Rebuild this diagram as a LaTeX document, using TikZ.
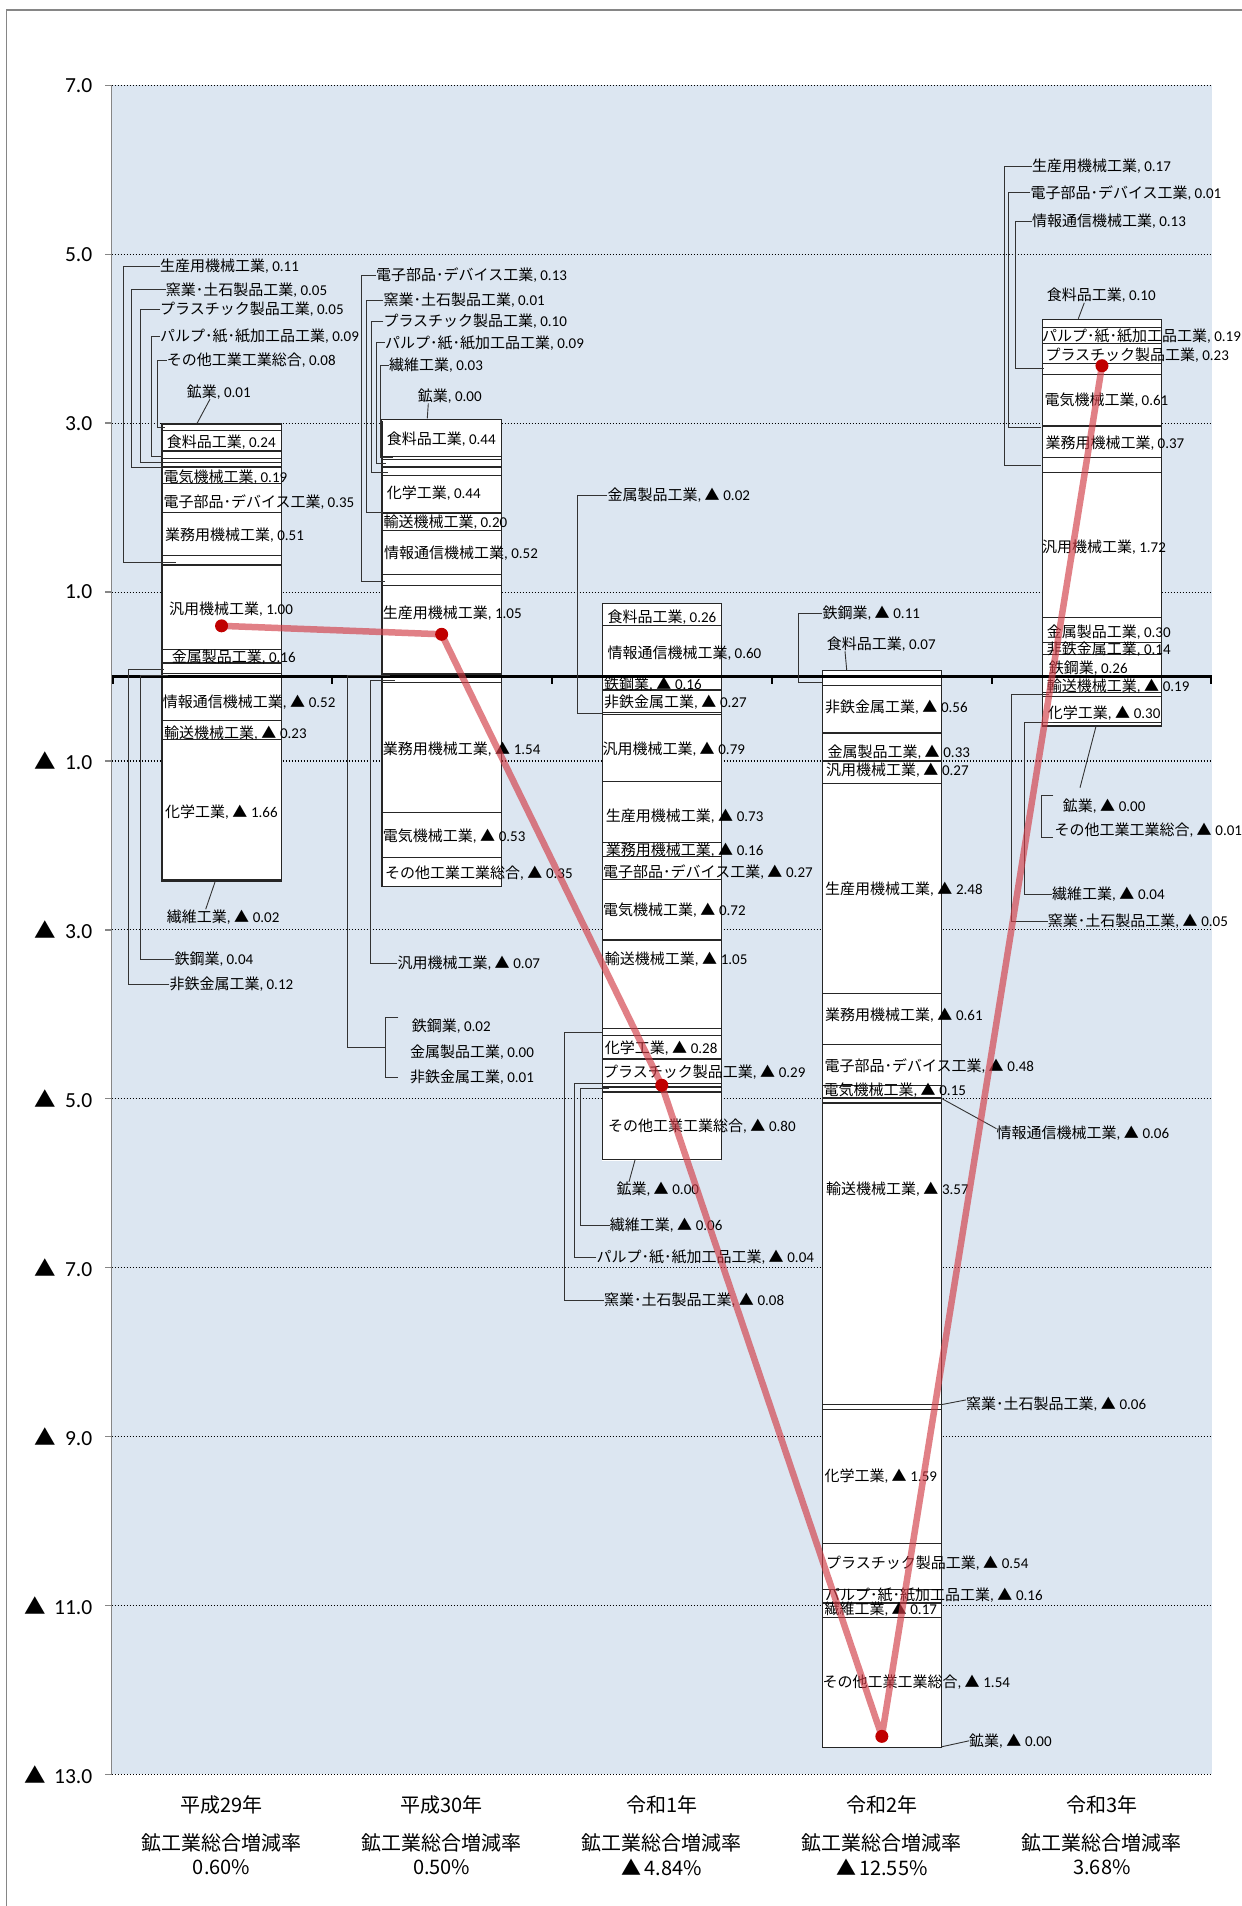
\documentclass[tikz,border=0pt]{standalone}
\usepackage{fontspec}
\setmainfont{Carlito}
\newfontfamily\jp{Noto Sans CJK JP}
\definecolor{plotbg}{RGB}{220,230,241}
\definecolor{axgray}{RGB}{134,134,134}
\definecolor{mkred}{RGB}{192,0,0}
\definecolor{lnred}{RGB}{210,60,70}
\newcommand\lb[2]{{\jp #1}, #2}
\newcommand\tri{{\jp ▲}\hspace{0.25em}}
\newcommand\ytri{{\jp ▲}\hspace{0.4em}}
\newcommand\stackbar[2]{%
  \xdef\posacc{0}\xdef\negacc{0}%
  \foreach \v in {#2}{%
    \ifdim\v pt<0pt
      \pgfmathsetmacro\nn{\negacc+(\v)}%
      \draw[seg] (#1-59.6,\negacc) rectangle (#1+59.6,\nn);
      \xdef\negacc{\nn}%
    \else
      \pgfmathsetmacro\nn{\posacc+(\v)}%
      \draw[seg] (#1-59.6,\posacc) rectangle (#1+59.6,\nn);
      \xdef\posacc{\nn}%
    \fi
  }%
}
\begin{document}
\begin{tikzpicture}[x=1pt,y=-1pt,
  seg/.style={draw=black!85,line width=1.2pt,fill=white},
  gridln/.style={draw=black,line width=1.1pt,dash pattern=on 1.3pt off 1.7pt},
  axln/.style={draw=axgray,line width=1.4pt},
  lab/.style={anchor=west,inner sep=0pt,font=\fontsize{15}{17}\selectfont},
  ylab/.style={anchor=east,inner sep=0pt,font=\fontsize{21.5}{23}\selectfont},
  cat/.style={inner sep=0pt,font=\jp\fontsize{20}{22}\selectfont},
  leader/.style={draw=black!80,line width=0.9pt},
  redln/.style={draw=lnred,line width=6.5pt,opacity=0.65,line join=round},
  dotmk/.style={fill=mkred}]
\useasboundingbox (0,0) rectangle (1242,1906);
\fill[white] (0,0) rectangle (1242,1906);
\draw[axln] (6.5,1906) -- (6.5,10) -- (1242,10);
\fill[plotbg] (111.5,85.35) rectangle (1212,1774.4);

\begin{scope}[shift={(0,676.5)},y=84.45pt]
  \foreach \g in {7,5,...,-13}{
    \draw[gridln] (111.5,\g) -- (1212,\g);
    \draw[axln] (105,\g) -- (111.5,\g);
  }
  \draw[axln] (111.5,7) -- (111.5,-13);
  \foreach \g/\t in {7/7.0,5/5.0,3/3.0,1/1.0,-1/{\ytri 1.0},-3/{\ytri 3.0},-5/{\ytri 5.0},-7/{\ytri 7.0},-9/{\ytri 9.0},-11/{\ytri 11.0},-13/{\ytri 13.0}}
    \node[ylab] (yl\g) at (92.5,\g) {\t};
  % bars
  \stackbar{221.55}{0.04,0.12,0.16,1.00,0.11,0.51,0.35,0.19,-0.52,-0.23,0.05,-1.66,0.05,0.09,-0.02,0.24,0.08,0.01}
  \stackbar{441.65}{0.02,0.01,0.001,-0.07,1.05,-1.54,0.13,-0.53,0.52,0.20,0.01,0.44,0.10,0.09,0.03,0.44,-0.35,0.001}
  \stackbar{661.75}{-0.16,-0.27,-0.02,-0.79,-0.73,-0.16,-0.27,-0.72,0.60,-1.05,-0.08,-0.28,-0.29,-0.04,-0.06,0.26,-0.80,-0.001}
  \stackbar{881.85}{-0.11,-0.56,-0.33,-0.27,-2.48,-0.61,-0.48,-0.15,-0.06,-3.57,-0.06,-1.59,-0.54,-0.16,-0.17,0.07,-1.54,-0.001}
  \stackbar{1101.95}{0.26,0.14,0.30,1.72,0.17,0.37,0.01,0.61,0.13,-0.19,-0.05,-0.30,0.23,0.19,-0.04,0.10,-0.01,-0.001}
  \coordinate (r1) at (221.55,0.60);
  \coordinate (r2) at (441.65,0.50);
  \coordinate (r3) at (661.75,-4.84);
  \coordinate (r4) at (881.85,-12.55);
  \coordinate (r5) at (1101.95,3.68);
\end{scope}

% zero axis
\draw[black,line width=2.6pt] (111.5,676.5) -- (1212,676.5);
\foreach \t in {112.5,331.6,551.7,771.8,991.9,1211}
  \draw[black,line width=2pt] (\t,676.5) -- (\t,684);

% ---------- 平成29年 ----------
\node[lab] (a1) at (160,266) {\lb{生産用機械工業}{0.11}};
\node[lab] (a2) at (165.7,289.7) {\lb{窯業･土石製品工業}{0.05}};
\node[lab] (a3) at (160,309) {\lb{プラスチック製品工業}{0.05}};
\node[lab] (a4) at (160,336) {\lb{パルプ･紙･紙加工品工業}{0.09}};
\node[lab] (a5) at (166.7,360) {\lb{その他工業工業総合}{0.08}};
\node[lab] (a6) at (186.7,391.7) {\lb{鉱業}{0.01}};
\node[lab] (a7) at (166.7,442.3) {\lb{食料品工業}{0.24}};
\node[lab] (a8) at (163.3,477.3) {\lb{電気機械工業}{0.19}};
\node[lab] (a9) at (163.3,502.3) {\lb{電子部品･デバイス工業}{0.35}};
\node[lab] (a10) at (165,535) {\lb{業務用機械工業}{0.51}};
\node[lab] (a11) at (169,609.3) {\lb{汎用機械工業}{1.00}};
\node[lab] (a12) at (171.7,656.7) {\lb{金属製品工業}{0.16}};
\node[lab] (a13) at (162.7,702) {\lb{情報通信機械工業}{\tri 0.52}};
\node[lab] (a14) at (164,732.7) {\lb{輸送機械工業}{\tri 0.23}};
\node[lab] (a15) at (165,811.7) {\lb{化学工業}{\tri 1.66}};
\node[lab] (a16) at (166.7,916.7) {\lb{繊維工業}{\tri 0.02}};
\node[lab] (a17) at (174.3,959.3) {\lb{鉄鋼業}{0.04}};
\node[lab] (a18) at (169.3,984.3) {\lb{非鉄金属工業}{0.12}};
\coordinate (ta1) at (176,562.3);
\coordinate (ta2) at (162,467.3);
\coordinate (ta3) at (162,462.3);
\coordinate (ta4) at (163,456.3);
\coordinate (ta5) at (165,427.3);
\coordinate (ta6) at (196.7,424);
\coordinate (ta16) at (215,882);
\coordinate (ta17) at (168.3,675.3);
\coordinate (ta18) at (164.3,669.3);
\draw[leader] (a1.west) -- ++(-36.7,0) |- (ta1);
\draw[leader] (a2.west) -- ++(-34,0) |- (ta2);
\draw[leader] (a3.west) -- ++(-19.3,0) |- (ta3);
\draw[leader] (a4.west) -- ++(-9,0) |- (ta4);
\draw[leader] (a5.west) -- ++(-9,0) |- (ta5);
\draw[leader] ([xshift=23.3pt]a6.south west) -- (ta6);
\draw[leader] ([xshift=39pt]a16.north west) -- (ta16);
\draw[leader] (a17.west) -- ++(-33.6,0) |- (ta17);
\draw[leader] (a18.west) -- ++(-41,0) |- (ta18);

% ---------- 平成30年 ----------
\node[lab] (b1) at (376,275) {\lb{電子部品･デバイス工業}{0.13}};
\node[lab] (b2) at (383.3,300) {\lb{窯業･土石製品工業}{0.01}};
\node[lab] (b3) at (383.3,321) {\lb{プラスチック製品工業}{0.10}};
\node[lab] (b4) at (385,342.7) {\lb{パルプ･紙･紙加工品工業}{0.09}};
\node[lab] (b5) at (389,365.3) {\lb{繊維工業}{0.03}};
\node[lab] (b6) at (417.7,396) {\lb{鉱業}{0.00}};
\node[lab] (b7) at (386.7,439.3) {\lb{食料品工業}{0.44}};
\node[lab] (b8) at (386.7,493.3) {\lb{化学工業}{0.44}};
\node[lab] (b9) at (383.3,521.7) {\lb{輸送機械工業}{0.20}};
\node[lab] (b10) at (384,553.3) {\lb{情報通信機械工業}{0.52}};
\node[lab] (b11) at (382.7,612.7) {\lb{生産用機械工業}{1.05}};
\node[lab] (b12) at (382.7,749) {\lb{業務用機械工業}{\tri 1.54}};
\node[lab] (b13) at (382.7,836.3) {\lb{電気機械工業}{\tri 0.53}};
\node[lab] (b14) at (385,873) {\lb{その他工業工業総合}{\tri 0.35}};
\node[lab] (b15) at (397.3,963) {\lb{汎用機械工業}{\tri 0.07}};
\node[lab] (b16) at (411.7,1026.3) {\lb{鉄鋼業}{0.02}};
\node[lab] (b17) at (410,1052.3) {\lb{金属製品工業}{0.00}};
\node[lab] (b18) at (410,1077.3) {\lb{非鉄金属工業}{0.01}};
\coordinate (tb1) at (385,581);
\coordinate (tb2) at (383.3,512.7);
\coordinate (tb3) at (387.7,472);
\coordinate (tb4) at (386,463);
\coordinate (tb5) at (393,457.7);
\coordinate (tb6) at (427.3,418.3);
\coordinate (tb15) at (395,680.3);
\coordinate (tb16) at (390,675);
\coordinate (bk1) at (398.3,1017);
\coordinate (bk2) at (398.3,1077.3);
\draw[leader] (b1.west) -- ++(-15,0) |- (tb1);
\draw[leader] (b2.west) -- ++(-17.3,0) |- (tb2);
\draw[leader] (b3.west) -- ++(-11.6,0) |- (tb3);
\draw[leader] (b4.west) -- ++(-9,0) |- (tb4);
\draw[leader] (b5.west) -- ++(-8.3,0) |- (tb5);
\draw[leader] ([xshift=10.6pt]b6.south west) -- (tb6);
\draw[leader] (b15.west) -- ++(-27.3,0) |- (tb15);
\draw[leader] (bk1) -- ++(-12.6,0) |- (bk2);
\draw[leader] (385.7,1047.3) -- ++(-38.4,0) |- (tb16);

% ---------- 令和1年 ----------
\node[lab] (c1) at (607.3,495) {\lb{金属製品工業}{\tri 0.02}};
\node[lab] (c2) at (607.3,616.7) {\lb{食料品工業}{0.26}};
\node[lab] (c3) at (607.3,652.7) {\lb{情報通信機械工業}{0.60}};
\node[lab] (c4) at (604,684) {\lb{鉄鋼業}{\tri 0.16}};
\node[lab] (c5) at (604,701.7) {\lb{非鉄金属工業}{\tri 0.27}};
\node[lab] (c6) at (602.3,749.3) {\lb{汎用機械工業}{\tri 0.79}};
\node[lab] (c7) at (605.7,816) {\lb{生産用機械工業}{\tri 0.73}};
\node[lab] (c8) at (605.7,850) {\lb{業務用機械工業}{\tri 0.16}};
\node[lab] (c9) at (603,871.7) {\lb{電子部品･デバイス工業}{\tri 0.27}};
\node[lab] (c10) at (603,910.3) {\lb{電気機械工業}{\tri 0.72}};
\node[lab] (c11) at (604.7,959.3) {\lb{輸送機械工業}{\tri 1.05}};
\node[lab] (c12) at (604.7,1047.7) {\lb{化学工業}{\tri 0.28}};
\node[lab] (c13) at (603,1071.7) {\lb{プラスチック製品工業}{\tri 0.29}};
\node[lab] (c14) at (608,1126) {\lb{その他工業工業総合}{\tri 0.80}};
\node[lab] (c15) at (616.3,1189.3) {\lb{鉱業}{\tri 0.00}};
\node[lab] (c16) at (609.7,1225.3) {\lb{繊維工業}{\tri 0.06}};
\node[lab] (c17) at (596.3,1257) {\lb{パルプ･紙･紙加工品工業}{\tri 0.04}};
\node[lab] (c18) at (604,1300.3) {\lb{窯業･土石製品工業}{\tri 0.08}};
\coordinate (tc1) at (602.3,713.3);
\coordinate (tc15) at (635,1160);
\coordinate (tc16) at (609,1088.3);
\coordinate (tc17) at (602.3,1083.3);
\coordinate (tc18) at (602.3,1032);
\draw[leader] (c1.west) -- ++(-30,0) |- (tc1);
\draw[leader] ([xshift=12.7pt]c15.north west) -- (tc15);
\draw[leader] (c16.west) -- ++(-29,0) |- (tc16);
\draw[leader] (c17.west) -- ++(-21.6,0) |- (tc17);
\draw[leader] (c18.west) -- ++(-39.3,0) |- (tc18);

% ---------- 令和2年 ----------
\node[lab] (d1) at (822.3,613.1) {\lb{鉄鋼業}{\tri 0.11}};
\node[lab] (d2) at (826.7,643.8) {\lb{食料品工業}{0.07}};
\node[lab] (d3) at (825,707.2) {\lb{非鉄金属工業}{\tri 0.56}};
\node[lab] (d4) at (827.3,752.5) {\lb{金属製品工業}{\tri 0.33}};
\node[lab] (d5) at (826,770.3) {\lb{汎用機械工業}{\tri 0.27}};
\node[lab] (d6) at (825,888.7) {\lb{生産用機械工業}{\tri 2.48}};
\node[lab] (d7) at (825,1015.5) {\lb{業務用機械工業}{\tri 0.61}};
\node[lab] (d8) at (824.3,1066) {\lb{電子部品･デバイス工業}{\tri 0.48}};
\node[lab] (d9) at (823.3,1090.5) {\lb{電気機械工業}{\tri 0.15}};
\node[lab] (d10) at (996.5,1132.7) {\lb{情報通信機械工業}{\tri 0.06}};
\node[lab] (d11) at (826,1189.1) {\lb{輸送機械工業}{\tri 3.57}};
\node[lab] (d12) at (966,1403.9) {\lb{窯業･土石製品工業}{\tri 0.06}};
\node[lab] (d13) at (824.3,1476.5) {\lb{化学工業}{\tri 1.59}};
\node[lab] (d14) at (826,1563.1) {\lb{プラスチック製品工業}{\tri 0.54}};
\node[lab] (d15) at (825,1595.1) {\lb{パルプ･紙･紙加工品工業}{\tri 0.16}};
\node[lab] (d16) at (824.3,1609) {\lb{繊維工業}{\tri 0.17}};
\node[lab] (d17) at (822.3,1681.7) {\lb{その他工業工業総合}{\tri 1.54}};
\node[lab] (d18) at (969,1740.8) {\lb{鉱業}{\tri 0.00}};
\coordinate (td1) at (821.7,682.2);
\coordinate (td2) at (846.7,670);
\coordinate (td10) at (941.5,1098.4);
\coordinate (td12) at (941.5,1404.6);
\coordinate (td18) at (941.5,1746.8);
\draw[leader] (d1.west) -- ++(-24,0) |- (td1);
\draw[leader] ([xshift=18.3pt]d2.south west) -- (td2);
\draw[leader] (td10) -- ([yshift=4pt]d10.west);
\draw[leader] (td12) -- ([yshift=4pt]d12.west);
\draw[leader] (td18) -- (d18.west);

% ---------- 令和3年 ----------
\node[lab] (e1) at (1032,166) {\lb{生産用機械工業}{0.17}};
\node[lab] (e2) at (1030.3,192.7) {\lb{電子部品･デバイス工業}{0.01}};
\node[lab] (e3) at (1032,221.3) {\lb{情報通信機械工業}{0.13}};
\node[lab] (e4) at (1046.7,295.3) {\lb{食料品工業}{0.10}};
\node[lab] (e5) at (1042,336.3) {\lb{パルプ･紙･紙加工品工業}{0.19}};
\node[lab] (e6) at (1045.3,354.7) {\lb{プラスチック製品工業}{0.23}};
\node[lab] (e7) at (1044.3,400.3) {\lb{電気機械工業}{0.61}};
\node[lab] (e8) at (1045.3,443) {\lb{業務用機械工業}{0.37}};
\node[lab] (e9) at (1042,547) {\lb{汎用機械工業}{1.72}};
\node[lab] (e10) at (1046.7,631.7) {\lb{金属製品工業}{0.30}};
\node[lab] (e11) at (1046.7,649.3) {\lb{非鉄金属工業}{0.14}};
\node[lab] (e12) at (1048.7,668) {\lb{鉄鋼業}{0.26}};
\node[lab] (e13) at (1046.7,686) {\lb{輸送機械工業}{\tri 0.19}};
\node[lab] (e14) at (1047.7,712.7) {\lb{化学工業}{\tri 0.30}};
\node[lab] (e15) at (1062.7,806) {\lb{鉱業}{\tri 0.00}};
\node[lab] (e16) at (1054.3,830.3) {\lb{その他工業工業総合}{\tri 0.01}};
\node[lab] (e17) at (1052,894.3) {\lb{繊維工業}{\tri 0.04}};
\node[lab] (e18) at (1047.7,921) {\lb{窯業･土石製品工業}{\tri 0.05}};
\coordinate (te1) at (1041,465.3);
\coordinate (te2) at (1041,427);
\coordinate (te3) at (1044.3,368.7);
\coordinate (te4) at (1078.3,318.7);
\coordinate (te15) at (1096,726.3);
\coordinate (te15b) at (1080,787.7);
\coordinate (te17) at (1052.7,722.7);
\coordinate (te18) at (1049.3,694.3);
\coordinate (ek1) at (1053.3,795.3);
\coordinate (ek2) at (1053.3,837);
\draw[leader] (e1.west) -- ++(-27.7,0) |- (te1);
\draw[leader] (e2.west) -- ++(-21.6,0) |- (te2);
\draw[leader] (e3.west) -- ++(-17,0) |- (te3);
\draw[leader] ([xshift=37.6pt]e4.south west) -- (te4);
\draw[leader] (te15) -- (te15b);
\draw[leader] (ek1) -- ++(-11.6,0) |- (ek2);
\draw[leader] (e17.west) -- ++(-27.7,0) |- (te17);
\draw[leader] (e18.west) -- ++(-36,0) |- (te18);

% ---------- total line ----------
\draw[redln] (r1) -- (r2) -- (r3) -- (r4) -- (r5);
\foreach \p in {r1,r2,r3,r4,r5} \fill[dotmk] (\p) circle (6.5pt);

% ---------- categories ----------
\node[cat] (x1) at (221.55,1805) {平成29年};
\node[cat] (x2) at (441.65,1805) {平成30年};
\node[cat] (x3) at (661.75,1805) {令和1年};
\node[cat] (x4) at (881.85,1805) {令和2年};
\node[cat] (x5) at (1101.95,1805) {令和3年};
\foreach \i/\xx in {1/221.55,2/441.65,3/661.75,4/881.85,5/1101.95}
  \node[cat] (s\i) at (\xx,1843) {鉱工業総合増減率};
\node[cat] (v1) at (221.55,1867) {0.60\%};
\node[cat] (v2) at (441.65,1867) {0.50\%};
\node[cat] (v3) at (661.75,1867) {▲\hspace{0.15em}4.84\%};
\node[cat] (v4) at (881.85,1867) {▲\hspace{0.15em}12.55\%};
\node[cat] (v5) at (1101.95,1867) {3.68\%};
\end{tikzpicture}
\end{document}
